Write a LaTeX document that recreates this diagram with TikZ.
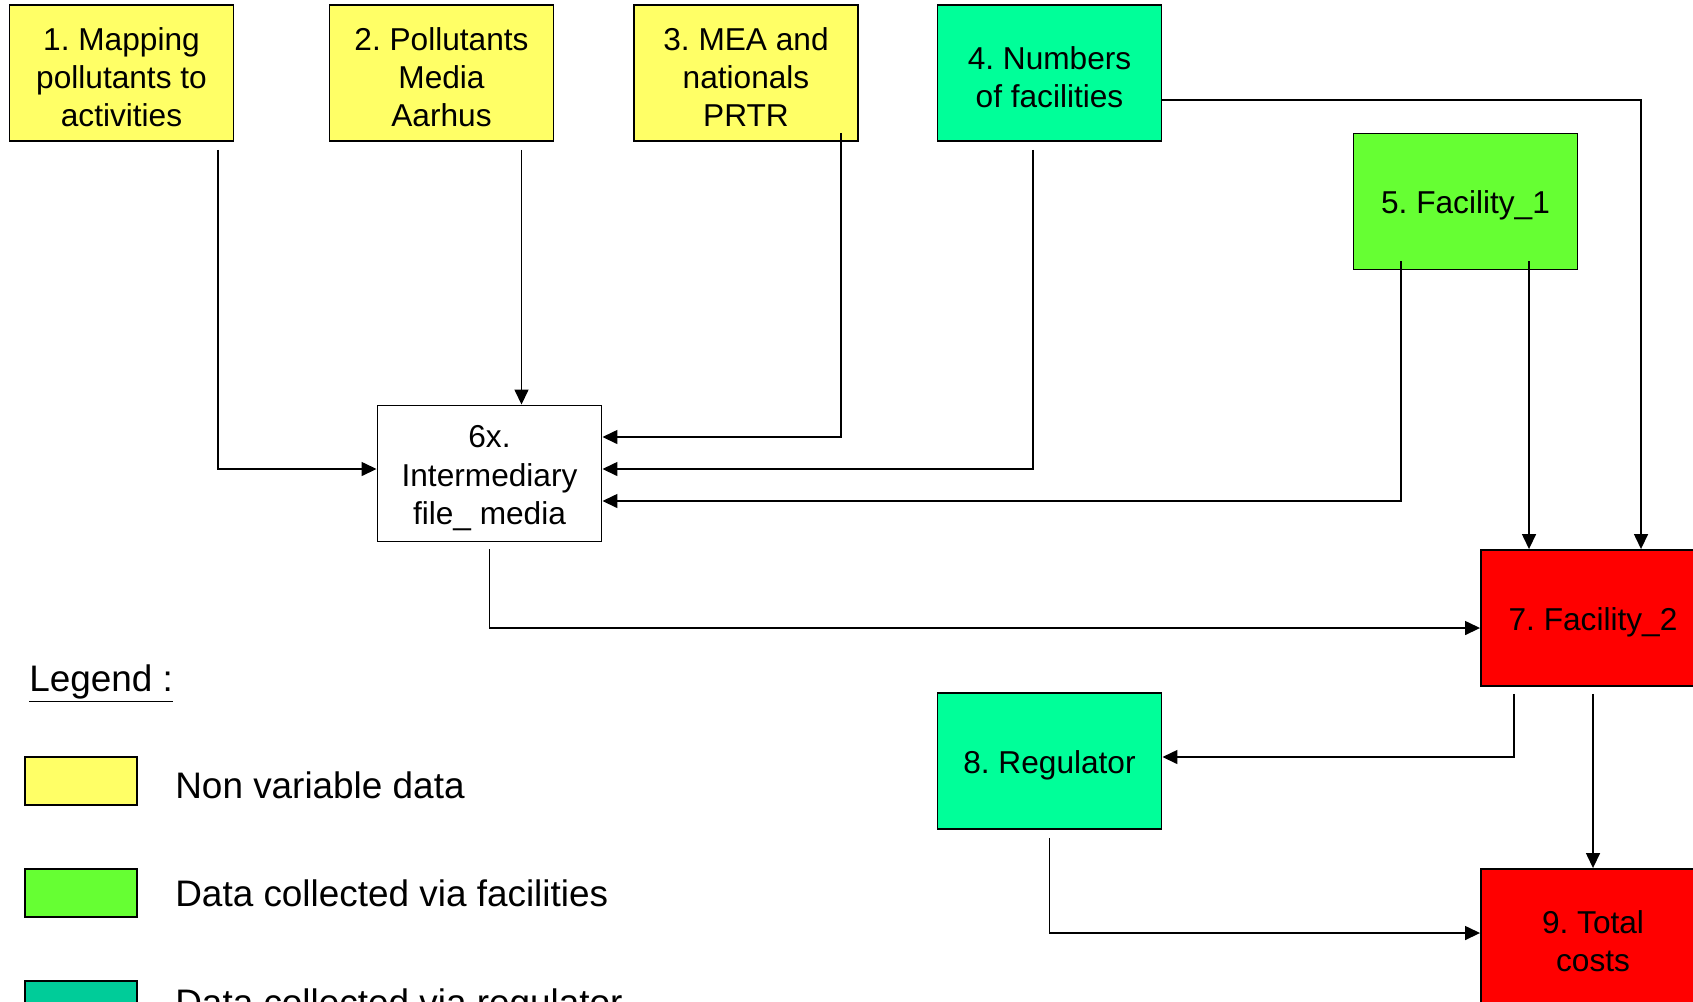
\documentclass[tikz,border=0pt]{standalone}
\usepackage{fontspec}
\setmainfont{Liberation Sans}
\usetikzlibrary{arrows.meta, positioning}
\definecolor{nonvar}{HTML}{FFFF66}
\definecolor{viafac}{HTML}{66FF33}
\definecolor{viareg}{HTML}{00FF99}
\definecolor{legreg}{HTML}{00CC99}
\definecolor{cost}{HTML}{FF0000}
\frenchspacing
\newcommand*{\boxtop}{\rule{0pt}{17.8pt}}

\begin{document}
\begin{tikzpicture}[on grid, node distance=1cm, >={Triangle[length=0.3cm,width=0.28cm]},
      box/.style={draw, line width=1.1pt, minimum width=4.48cm, minimum height=2.72cm,
        align=center, font=\fontsize{18}{21.8}\selectfont,
        execute at begin node=\boxtop},
      link/.style={->, line width=0.85pt},
      swatch/.style={draw, line width=0.9pt, minimum width=2.24cm, minimum height=0.96cm},
      legtext/.style={anchor=base west, inner sep=0pt, font=\fontsize{21}{25}\selectfont}]
  \useasboundingbox (0,0) rectangle (33.86,-20.02);
  % data boxes
  \node[box, fill=nonvar] (m1) at (2.43,-1.46) {\boxtop 1. Mapping\\pollutants to\\activities};
  \node[box, fill=nonvar] (m2) [right=6.4cm of m1] {\boxtop 2. Pollutants\\Media\\Aarhus};
  \node[box, fill=nonvar] (m3) [right=6.09cm of m2] {\boxtop 3. MEA and\\nationals\\PRTR};
  \node[box, fill=viareg] (m4) [right=6.07cm of m3] {\boxtop 4. Numbers\\of facilities};
  \node[box, fill=viafac] (m5) at (29.31,-4.03) {5. Facility\_1};
  \node[box, fill=white]  (m6) at (9.79,-9.47) {\boxtop 6x.\\Intermediary\\file\_ media};
  \node[box, fill=cost]   (m7) at (31.86,-12.36) {7. Facility\_2};
  \node[box, fill=viareg] (m8) [below=13.76cm of m4] {8. Regulator};
  \node[box, fill=cost]   (m9) [below=6.38cm of m7] {\boxtop 9. Total\\costs};
  \coordinate (c2) at ([xshift=1.6cm]m2.south);
  \coordinate (c5) at ([xshift=1.27cm]m5.south);
  % connectors
  \draw[link] ([xshift=1.93cm,yshift=-0.16cm]m1.south) |- ([yshift=0.09cm]m6.west);
  \draw[link] ([yshift=-0.16cm]c2) -- (c2 |- m6.north);
  \draw[link] ([xshift=1.9cm,yshift=0.18cm]m3.south) |- ([yshift=0.73cm]m6.east);
  \draw[link] ([xshift=-0.33cm,yshift=-0.16cm]m4.south) |- ([yshift=0.09cm]m6.east);
  \draw[link] ([xshift=-1.29cm,yshift=0.18cm]m5.south) |- ([yshift=-0.55cm]m6.east);
  \draw[link] ([yshift=0.18cm]c5) -- (c5 |- m7.north);
  \draw[link] ([yshift=-0.54cm]m4.east) -| ([xshift=0.96cm]m7.north);
  \draw[link] ([yshift=-0.14cm]m6.south) |- ([yshift=-0.2cm]m7.west);
  \draw[link] ([xshift=-1.58cm,yshift=-0.14cm]m7.south) |- ([yshift=0.08cm]m8.east);
  \draw[link] ([yshift=-0.14cm]m7.south) -- (m9.north);
  \draw[link] ([yshift=-0.16cm]m8.south) |- ([yshift=0.08cm]m9.west);
  % legend
  \node[legtext] (leg) at (0.58,-13.82) {\underline{Legend :}};
  \node[swatch, fill=nonvar] (s1) at (1.62,-15.62) {};
  \node[swatch, fill=viafac] (s2) [below=2.24cm of s1] {};
  \node[swatch, fill=legreg] (s3) [below=2.24cm of s2] {};
  \node[legtext] (t1) at (3.5,-15.96) {Non variable data};
  \node[legtext] (t2) at (3.5,-18.12) {Data collected via facilities};
  \node[legtext] (t3) at (3.5,-20.3) {Data collected via regulator};
\end{tikzpicture}
\end{document}
